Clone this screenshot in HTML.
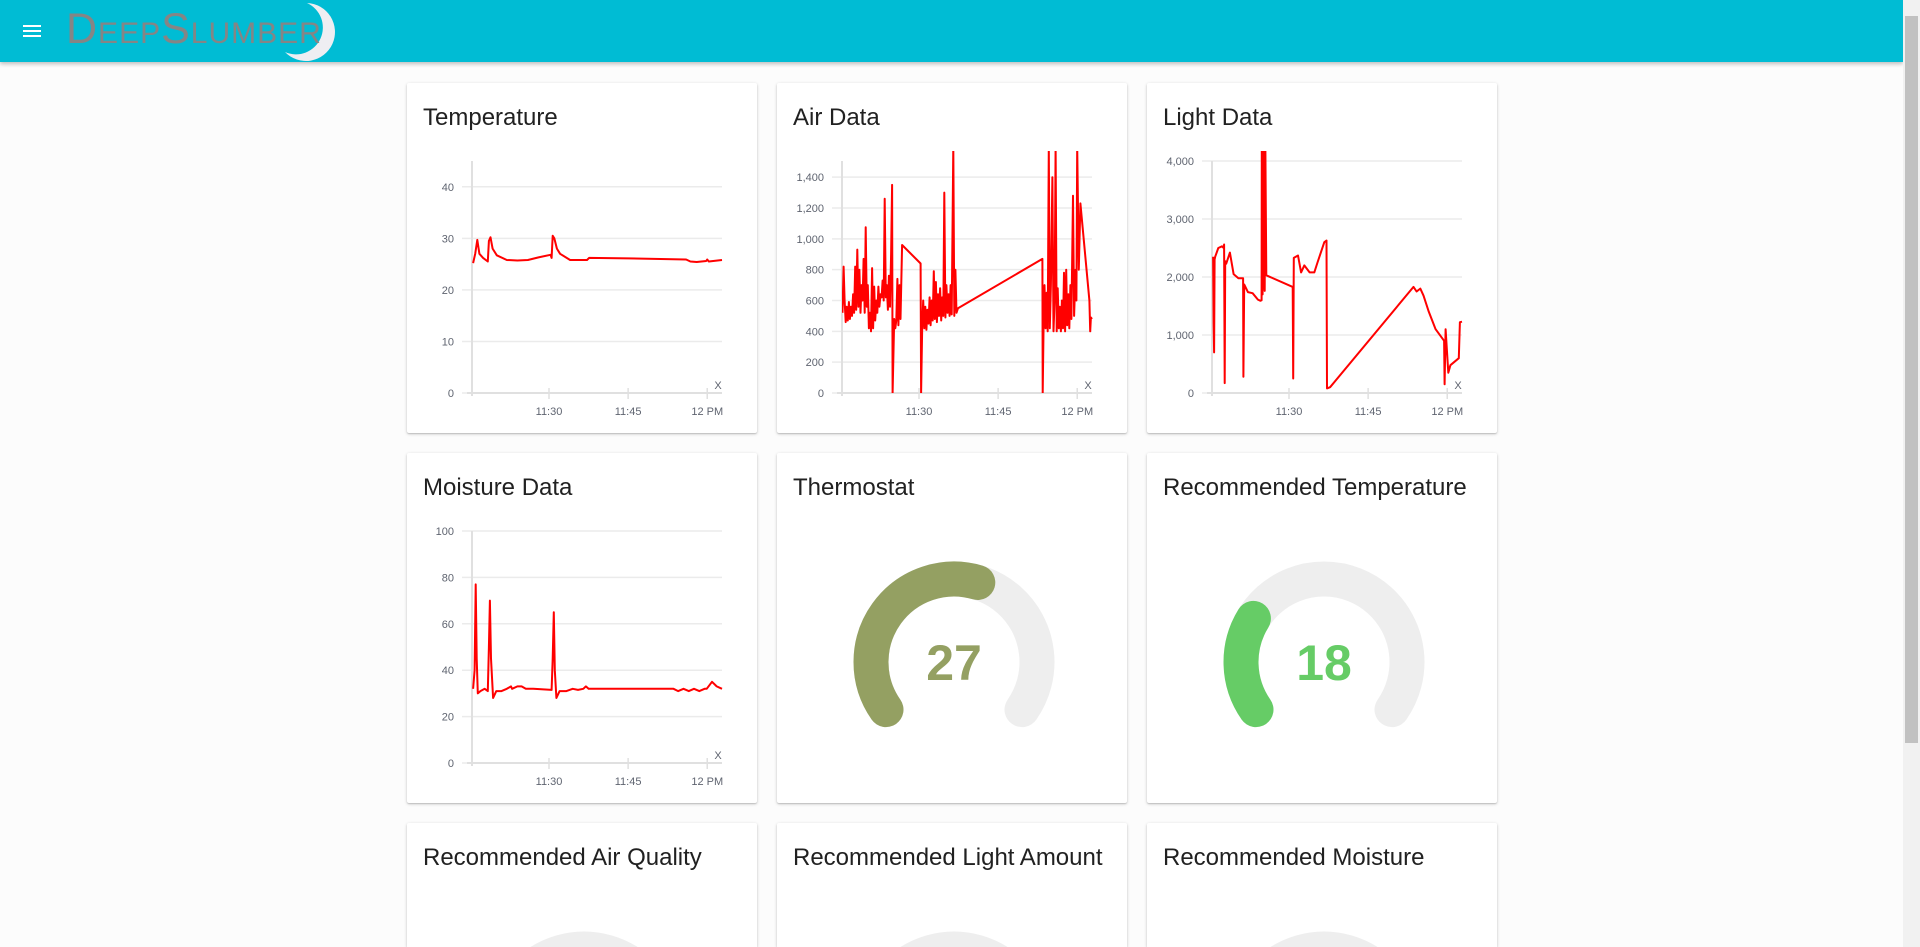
<!DOCTYPE html>
<html><head><meta charset="utf-8">
<style>
html,body{margin:0;padding:0;width:1920px;height:947px;overflow:hidden;background:#fcfcfc;font-family:"Liberation Sans",sans-serif;}
#page{position:relative;width:1920px;height:947px;overflow:hidden;}
#header{position:absolute;left:0;top:0;width:1903px;height:62px;background:#00bcd4;box-shadow:0 2px 4px rgba(0,0,0,0.25);z-index:2;}
#menu{position:absolute;left:23px;top:25px;width:18px;height:12px;}
#menu div{position:absolute;left:0;width:18px;height:2px;background:#fff;}
#logo{position:absolute;left:66px;top:5px;font-size:43px;color:#858585;font-variant:small-caps;letter-spacing:1px;font-weight:normal;}
#scroll{position:absolute;left:1903px;top:0;width:17px;height:947px;background:#f1f1f1;z-index:3;}
#thumb{position:absolute;left:2px;top:16px;width:13px;height:727px;background:#c1c1c1;}
.card{position:absolute;width:350px;height:350px;background:#fff;box-shadow:0 1px 3px rgba(0,0,0,0.2),0 1px 1px rgba(0,0,0,0.12);border-radius:2px;overflow:hidden;}
.card.short{height:124px;border-radius:2px 2px 0 0;}
.title{position:absolute;left:16px;top:21px;font-size:24px;color:#212121;white-space:nowrap;}
svg{position:absolute;left:0;top:0;}
</style></head><body>
<div id="page">
<div id="header">
  <div id="menu"><div style="top:0"></div><div style="top:5px"></div><div style="top:10px"></div></div>
  <svg width="80" height="62" style="left:285px;top:0">
    <path d="M22 3 A29 29 0 1 1 0 52 A24 24 0 0 0 22 3 Z" fill="#eeeef2"/>
  </svg>
  <div id="logo">DeepSlumber</div>
</div>
<div id="scroll"><div id="thumb"></div></div>

<div class="card" style="left:407px;top:83px"><div class="title">Temperature</div><svg id="c-temp" width="350" height="350"></svg></div>
<div class="card" style="left:777px;top:83px"><div class="title">Air Data</div><svg id="c-air" width="350" height="350"></svg></div>
<div class="card" style="left:1147px;top:83px"><div class="title">Light Data</div><svg id="c-light" width="350" height="350"></svg></div>
<div class="card" style="left:407px;top:453px"><div class="title">Moisture Data</div><svg id="c-moist" width="350" height="350"></svg></div>
<div class="card" style="left:777px;top:453px"><div class="title">Thermostat</div><svg id="g-thermo" width="350" height="350"></svg></div>
<div class="card" style="left:1147px;top:453px"><div class="title">Recommended Temperature</div><svg id="g-rtemp" width="350" height="350"></svg></div>
<div class="card short" style="left:407px;top:823px"><div class="title">Recommended Air Quality</div><svg id="g-rair" width="350" height="124"></svg></div>
<div class="card short" style="left:777px;top:823px"><div class="title">Recommended Light Amount</div><svg id="g-rlight" width="350" height="124"></svg></div>
<div class="card short" style="left:1147px;top:823px"><div class="title">Recommended Moisture</div><svg id="g-rmoist" width="350" height="124"></svg></div>
</div>

<script>
// time in minutes after 11:00
const xTickValues = [30, 45, 60];
const xTickLabels = ["11:30", "11:45", "12 PM"];
const xDomain = [15.4, 62.8];

const tempTimes = [15.6,16.0,16.4,16.8,17.5,18.4,18.6,18.9,19.3,20.1,22,24,26,28,30.3,30.5,30.7,31,31.5,32.1,34,37.2,37.6,45,56,56.8,58,59.8,60,60.3,62.8];
const tempValues = [25.2,27,29.7,27,26.2,25.5,29.5,30.2,28,26.7,25.8,25.7,25.8,26.3,26.8,26.2,30.5,30,28,27,25.8,25.8,26.2,26.1,25.9,25.5,25.4,25.6,25.9,25.5,25.8];
const tempTicks = [0,10,20,30,40];

const airTimes = [15.5,15.7,15.9,16.1,16.3,16.5,16.7,16.9,17.1,17.3,17.5,17.7,17.9,18.1,18.3,18.5,18.7,18.9,19.1,19.3,19.5,19.7,19.9,20.1,20.3,20.5,20.7,20.9,21.1,21.3,21.5,21.7,21.9,22.1,22.3,22.5,22.7,22.9,23.1,23.3,23.5,23.7,23.9,24.1,24.3,24.5,24.7,24.9,25.0,25.3,25.5,25.7,25.9,26.1,26.3,26.5,26.8,30.3,30.4,30.6,30.8,31.0,31.2,31.4,31.6,31.8,32.0,32.2,32.4,32.6,32.8,33.0,33.2,33.4,33.6,33.8,34.0,34.2,34.4,34.6,34.8,35.0,35.2,35.4,35.6,35.8,36.0,36.2,36.5,36.7,36.9,37.1,37.4,53.4,53.45,53.6,53.8,54.0,54.2,54.4,54.6,54.8,55.0,55.3,55.5,55.7,55.9,56.1,56.3,56.5,56.7,56.9,57.1,57.3,57.5,57.7,57.9,58.1,58.3,58.5,58.7,58.9,59.2,59.4,59.7,59.85,60.0,60.3,60.6,62.3,62.45,62.6,62.8];
const airValues = [520,820,600,460,560,470,590,480,560,500,640,520,820,540,930,560,800,520,700,600,870,520,1075,560,700,420,520,400,810,420,690,470,600,520,690,560,640,620,730,600,1260,620,700,540,760,560,900,1350,0,480,420,470,740,440,700,480,960,840,0,430,600,420,560,410,540,450,620,440,600,470,790,480,720,460,640,500,680,470,620,500,1300,490,700,520,640,500,700,510,1600,500,800,520,550,870,0,400,700,420,650,400,1600,420,700,1400,400,600,1600,400,680,420,560,400,600,420,780,400,800,440,640,420,700,480,1280,500,800,600,1600,800,1230,600,400,490,480];
const airTicks = [0,200,400,600,800,1000,1200,1400];

const lightTimes = [15.6,15.7,15.8,15.9,16.0,16.6,17.3,17.6,17.7,17.8,17.9,18.1,18.8,19.5,20.4,21.3,21.35,21.5,22.2,23.1,24.1,24.6,24.8,24.85,24.9,24.95,25.0,25.1,25.2,25.3,25.4,25.5,25.7,30.7,30.8,30.9,31.7,32.3,32.9,33.9,34.8,35.4,36.7,37.1,37.2,37.8,53.6,54.2,54.9,55.5,56.5,57.8,59.4,59.5,59.7,60.2,60.6,62.2,62.4,62.8];
const lightValues = [2350,1200,700,2300,2350,2500,2530,2500,2560,170,2270,2230,2420,2050,1980,1980,280,1870,1740,1720,1610,1590,1600,4400,1800,4400,1700,4400,1800,4400,1760,4400,2030,1830,250,2330,2370,2080,2200,2080,2080,2250,2600,2630,80,100,1830,1750,1800,1680,1400,1100,900,150,1100,350,480,600,1220,1230];
const lightTicks = [0,1000,2000,3000,4000];

const moistTimes = [15.6,15.9,16.1,16.3,16.5,17.0,17.8,18.4,18.6,18.8,19.0,19.4,20.0,21.0,22.0,22.8,23.0,24.0,24.8,25.6,27.0,30.5,30.7,30.9,31.1,31.4,32.0,33.3,34.5,35.5,36.5,37.0,37.5,45.0,53.6,54.5,55.5,56.5,57.5,58.5,59.5,59.9,60.9,61.8,62.8];
const moistValues = [32,40,77,45,30,31,32,31,50,70,45,28,31,31,32,33,32,33,33,32,32,31.5,45,65,40,28,31,31,32,31.5,32,33,32,32,32,31,32,31,32,31,32,32,35,33,32];
const moistTicks = [0,20,40,60,80,100];

const gaugeMin = 10, gaugeMax = 40;
const thermostatValue = 27;
const recommendedTempValue = 18;

const NS = "http://www.w3.org/2000/svg";
const PL = 65, PR = 315, PB = 310, PT = 78;
function mk(tag, attrs, parent){const e=document.createElementNS(NS,tag);for(const k in attrs)e.setAttribute(k,attrs[k]);parent.appendChild(e);return e;}
function fmt(v){return v.toLocaleString("en-US");}

function drawChart(id, times, values, ticks, yMax, key){
  const svg = document.getElementById(id);
  const xs = t => PL + (t - xDomain[0]) / (xDomain[1] - xDomain[0]) * (PR - PL);
  const ys = v => PB - v / yMax * (PB - PT);
  ticks.forEach(v => {
    const g = mk("line",{x1:PL-10,x2:PR,y1:ys(v),y2:ys(v),stroke:"#ebebeb","stroke-width":1.5},svg);
    
    
    const t = mk("text",{x:PL-18,y:ys(v)+4,"text-anchor":"end","font-size":"11","fill":"#5f6470","font-family":"Liberation Sans, sans-serif"},svg);
    t.textContent = fmt(v);
    
    
  });
  const ya = mk("line",{x1:PL,x2:PL,y1:PT,y2:PB+3,stroke:"#e0e0e0","stroke-width":2},svg);
  
  
  const xa = mk("line",{x1:PL-5,x2:PR,y1:PB,y2:PB,stroke:"#e0e0e0","stroke-width":2},svg);
  
  
  xTickValues.forEach((tv,i) => {
    const tk = mk("line",{x1:xs(tv),x2:xs(tv),y1:PB-5,y2:PB+6,stroke:"#e0e0e0","stroke-width":1.5},svg);
    
    
    const t = mk("text",{x:xs(tv),y:PB+22,"text-anchor":"middle","font-size":"11","fill":"#5f6470","font-family":"Liberation Sans, sans-serif"},svg);
    t.textContent = xTickLabels[i];
    
    
  });
  const xl = mk("text",{x:PR-4,y:PB-4,"text-anchor":"middle","font-size":"11","fill":"#5f6470","font-family":"Liberation Sans, sans-serif"},svg);
  xl.textContent = "X";
  
  
  const cp = mk("clipPath",{id:id+"-clip"},svg);
  mk("rect",{x:PL,y:68,width:PR-PL+2,height:PB-68},cp);
  const d = times.map((t,i) => (i?"L":"M") + xs(t).toFixed(1) + " " + ys(values[i]).toFixed(1)).join(" ");
  const p = mk("path",{d:d,fill:"none",stroke:"#ff0000","stroke-width":2,"stroke-linejoin":"round","clip-path":"url(#"+id+"-clip)"},svg);
  
  
}
drawChart("c-temp", tempTimes, tempValues, tempTicks, 45, "temperature");
drawChart("c-air", airTimes, airValues, airTicks, 1505, "air");
drawChart("c-light", lightTimes, lightValues, lightTicks, 4000, "light");
drawChart("c-moist", moistTimes, moistValues, moistTicks, 100, "moisture");

function arc(cx,cy,r,a0,a1){
  const p = a => [cx + r*Math.sin(a*Math.PI/180), cy - r*Math.cos(a*Math.PI/180)];
  const s = p(a0), e = p(a1);
  return "M"+s[0].toFixed(1)+" "+s[1].toFixed(1)+" A"+r+" "+r+" 0 "+((a1-a0)>180?1:0)+" 1 "+e[0].toFixed(1)+" "+e[1].toFixed(1);
}
function drawGauge(id, value, color, key){
  const svg = document.getElementById(id);
  const cx = 177, cy = 209, r = 83, A0 = -125, A1 = 125;
  const bg = mk("path",{d:arc(cx,cy,r,A0,A1),fill:"none",stroke:"#eeeeee","stroke-width":35,"stroke-linecap":"round"},svg);
  
  
  const a = A0 + (value - gaugeMin) / (gaugeMax - gaugeMin) * (A1 - A0);
  const fg = mk("path",{d:arc(cx,cy,r,A0,a),fill:"none",stroke:color,"stroke-width":35,"stroke-linecap":"round"},svg);
  
  
  const t = mk("text",{x:cx,y:cy+18,"text-anchor":"middle","font-size":"50","font-weight":"bold","fill":color,"font-family":"Liberation Sans, sans-serif"},svg);
  t.textContent = value;
  
  
}
// gauges cut off by the bottom of the viewport: only the top of the track is visible
function drawPartialGauge(id, key){
  const svg = document.getElementById(id);
  const cx = 177, cy = 209, R = 100.5, yCut = 124;
  const hw = Math.sqrt(R*R - (cy - yCut)*(cy - yCut));
  const d = "M" + (cx-hw).toFixed(1) + " " + yCut + " A" + R + " " + R + " 0 0 1 " + (cx+hw).toFixed(1) + " " + yCut + " Z";
  const bg = mk("path",{d:d,fill:"#eeeeee"},svg);
  
  
}
drawGauge("g-thermo", thermostatValue, "#94a062", "thermostat");
drawGauge("g-rtemp", recommendedTempValue, "#66cc66", "recommended-temperature");
drawPartialGauge("g-rair", "recommended-air");
drawPartialGauge("g-rlight", "recommended-light");
drawPartialGauge("g-rmoist", "recommended-moisture");
</script>
</body></html>
